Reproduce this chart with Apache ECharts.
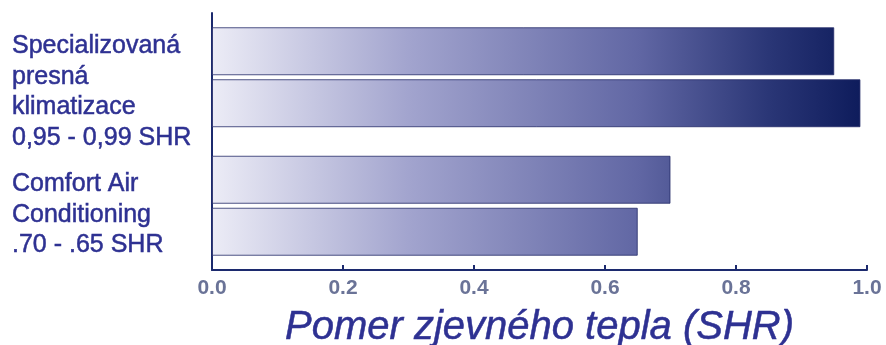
<!DOCTYPE html>
<html>
<head>
<meta charset="utf-8">
<script src="https://cdn.jsdelivr.net/npm/echarts@6/dist/echarts.min.js"></script>
<style>
  html, body { margin: 0; padding: 0; background: #fff; }
  #chart { width: 886px; height: 345px; }
</style>
</head>
<body>
<div id="chart"></div>
<script>
// groups on the y axis (top to bottom)
const groups = ['spec', 'comfort'];
const groupLabels = {
  spec: ['Specializovaná', 'presná', 'klimatizace', '0,95 - 0,99 SHR'],
  comfort: ['Comfort Air', 'Conditioning', '.70 - .65 SHR']
};
// upper bar and lower bar of each group
const upperBars = [0.95, 0.70];
const lowerBars = [0.99, 0.65];
const xTicks = [0, 0.2, 0.4, 0.6, 0.8, 1.0];
const axisTitle = 'Pomer zjevného tepla (SHR)';

const chart = echarts.init(document.getElementById('chart'), null, { renderer: 'canvas' });

// one gradient across the whole value axis (0 -> 1.0)
const barFill = new echarts.graphic.LinearGradient(212, 0, 867, 0, [
  { offset: 0, color: '#ececf6' },
  { offset: 0.3, color: '#a2a4ce' },
  { offset: 0.65, color: '#6167a4' },
  { offset: 0.85, color: '#2a3676' },
  { offset: 1, color: '#0c1a5a' }
], true);

const barStyle = {
  color: barFill,
  borderColor: 'rgba(36,42,104,0.8)',
  borderWidth: 1
};

const textFont = 'Liberation Sans, Arial, sans-serif';

const option = {
  animation: false,
  // keep the grid fixed, the big axis title is allowed to run off the bottom
  grid: { left: 212, right: 19, top: 13, bottom: 75, containLabel: false, outerBoundsMode: 'none' },
  xAxis: {
    type: 'value',
    min: 0,
    max: 1,
    interval: 0.2,
    axisLine: { show: true, lineStyle: { color: '#1c2a6e', width: 2 } },
    axisTick: { show: true, inside: true, length: 5, lineStyle: { color: '#1c2a6e', width: 2 } },
    splitLine: { show: false },
    axisLabel: {
      margin: 8,
      color: '#6a7397',
      fontFamily: textFont,
      fontWeight: 'bold',
      fontSize: 21,
      formatter: v => xTicks.includes(Math.round(v * 10) / 10) ? v.toFixed(1) : ''
    },
    name: axisTitle,
    nameLocation: 'middle',
    nameGap: 38,
    nameTextStyle: {
      color: '#2e3192',
      fontFamily: textFont,
      fontStyle: 'italic',
      fontSize: 40,
      textBorderColor: '#2e3192',
      textBorderWidth: 0.5
    }
  },
  yAxis: {
    type: 'category',
    inverse: true,
    data: groups,
    axisLine: { show: true, lineStyle: { color: '#1c2a6e', width: 2 } },
    axisTick: { show: false },
    axisLabel: {
      interval: 0,
      hideOverlap: false,
      align: 'left',
      margin: 200,
      formatter: g => {
        const sp = g === 'spec' ? '{s1| }' : '{s2| }';
        return sp + '\n' + groupLabels[g].map(t => '{t|' + t + '}').join('\n');
      },
      rich: {
        t: {
          color: '#2e3192',
          fontFamily: textFont,
          fontSize: 25,
          lineHeight: 30.5,
          textBorderColor: '#2e3192',
          textBorderWidth: 0.5
        },
        s1: { fontSize: 10, lineHeight: 29.5 },
        s2: { fontSize: 10, lineHeight: 18 }
      }
    }
  },
  series: [
    {
      type: 'bar',
      data: upperBars,
      barWidth: 48,
      barGap: '8.3%',
      itemStyle: barStyle
    },
    {
      type: 'bar',
      data: lowerBars,
      barWidth: 48,
      barGap: '8.3%',
      itemStyle: barStyle
    }
  ]
};

chart.setOption(option);
</script>
</body>
</html>
